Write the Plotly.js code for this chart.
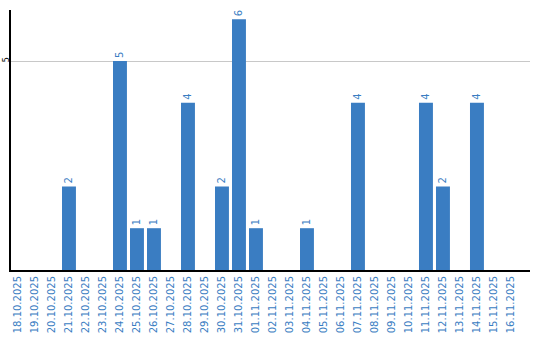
<!DOCTYPE html>
<html>
<head>
<meta charset="utf-8">
<script src="https://cdn.plot.ly/plotly-3.0.1.min.js"></script>
<style>html,body{margin:0;padding:0;background:#fff;}#chart{width:540px;height:340px;}</style>
</head>
<body>
<div id="chart"></div>
<script>
const dates = ["18.10.2025","19.10.2025","20.10.2025","21.10.2025","22.10.2025","23.10.2025","24.10.2025","25.10.2025","26.10.2025","27.10.2025","28.10.2025","29.10.2025","30.10.2025","31.10.2025","01.11.2025","02.11.2025","03.11.2025","04.11.2025","05.11.2025","06.11.2025","07.11.2025","08.11.2025","09.11.2025","10.11.2025","11.11.2025","12.11.2025","13.11.2025","14.11.2025","15.11.2025","16.11.2025"];
const counts = [0,0,0,2,0,0,5,1,1,0,4,0,2,6,1,0,0,1,0,0,4,0,0,0,4,2,0,4,0,0];
const labels = counts.map(v => v > 0 ? String(v) : "");
const blue = "#3a7dc2";

Plotly.newPlot("chart", [{
  type: "bar",
  x: dates,
  y: counts,
  text: labels,
  textposition: "outside",
  textangle: -90,
  cliponaxis: false,
  textfont: {family: "DejaVu Sans", size: 10, color: blue},
  marker: {color: blue},
  hoverinfo: "none"
}], {
  width: 540, height: 340,
  margin: {l: 11, r: 10, t: 10, b: 70},
  paper_bgcolor: "#fff", plot_bgcolor: "#fff",
  showlegend: false,
  bargap: 0.18,
  xaxis: {
    type: "category",
    range: [-0.41, 30.12],
    tickangle: -90,
    tickfont: {family: "DejaVu Sans", size: 10, color: blue},
    showline: true, linecolor: "#000", linewidth: 2,
    showgrid: false, ticks: "", zeroline: false
  },
  yaxis: {
    range: [0, 6.22],
    tickvals: [5],
    ticktext: ["5"],
    tickangle: -90,
    ticklabelstandoff: -3,
    tickfont: {family: "DejaVu Sans", size: 8, color: "#000"},
    showline: true, linecolor: "#000", linewidth: 2,
    showgrid: true, gridcolor: "#c8c8c8", gridwidth: 1,
    ticks: "", zeroline: false
  }
}, {displayModeBar: false, staticPlot: true});
</script>
</body>
</html>
